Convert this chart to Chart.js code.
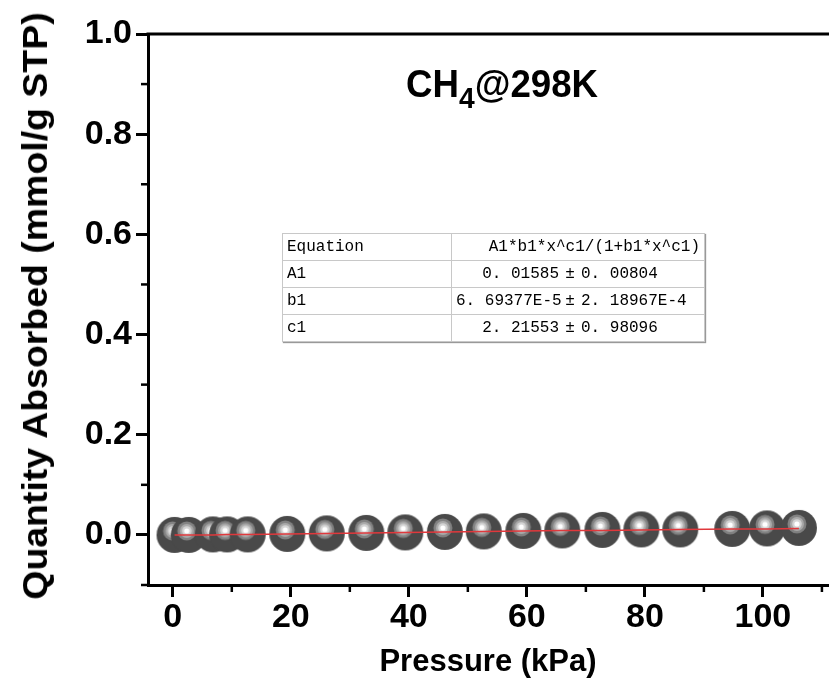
<!DOCTYPE html>
<html>
<head>
<meta charset="utf-8">
<script src="https://cdn.jsdelivr.net/npm/chart.js@4/dist/chart.umd.min.js"></script>
<style>
  html, body { margin: 0; padding: 0; background: #fff; }
  #wrap { position: relative; width: 829px; height: 690px; overflow: hidden; font-family: "Liberation Sans", Arial, sans-serif; color: #000; }
  #chart { position: absolute; left: 0; top: 0; }
  .ytitle { position: absolute; left: 35px; top: 306px; transform: translate(-50%, -50%) rotate(-90deg) scaleX(1.07); white-space: nowrap; font-weight: bold; font-size: 35px; }
  .xtitle { position: absolute; left: 488px; top: 661px; transform: translate(-50%, -50%); white-space: nowrap; font-weight: bold; font-size: 31px; }
  .ptitle { position: absolute; left: 406px; top: 62px; white-space: nowrap; font-weight: bold; font-size: 39px; transform-origin: 0 0; transform: scaleX(0.94); }
  .ptitle sub { font-size: 30px; vertical-align: -11px; line-height: 0; }
  table.fit { position: absolute; left: 282px; top: 233px; width: 423px; border-collapse: collapse; font-family: "Liberation Mono", monospace; font-size: 16px; border: 1.5px solid #555; box-shadow: 1px 1px 1px #999; background: #fff; }
  table.fit td { height: 26px; padding: 0 4px; border: 1px solid #c8c8c8; white-space: nowrap; }
  table.fit td.name { width: 160px; }
  table.fit td.head { text-align: right; }
  table.fit span.v { display: inline-block; width: 103px; text-align: right; }
  table.fit span.pm { display: inline-block; width: 22px; text-align: center; }
</style>
</head>
<body>
<div id="wrap">
  <canvas id="chart" width="829" height="690"></canvas>
  <div class="ytitle">Quantity Absorbed (mmol/g STP)</div>
  <div class="xtitle">Pressure (kPa)</div>
  <div class="ptitle">CH<sub>4</sub>@298K</div>
  <table class="fit" id="fitTable"></table>
</div>
<script>
// measured points (CH4 at 298 K)
const pressure = [0.3, 2.7, 6.8, 9.2, 12.7, 19.4, 26.1, 32.8, 39.4, 46.1, 52.7, 59.4, 66.0, 72.8, 79.4, 86.0, 94.8, 100.7, 106.1];
const uptake = [0.000, 0.000, 0.001, 0.001, 0.001, 0.002, 0.003, 0.004, 0.005, 0.006, 0.007, 0.008, 0.009, 0.010, 0.011, 0.011, 0.012, 0.013, 0.014];
// red fitted curve, read at the same pressures
const fitUptake = [0.000, 0.000, 0.000, 0.001, 0.001, 0.002, 0.003, 0.004, 0.005, 0.006, 0.007, 0.008, 0.009, 0.009, 0.010, 0.011, 0.012, 0.012, 0.013];

// axis ticks
const xMajorTicks = [0, 20, 40, 60, 80, 100];
const xMinorTicks = [10, 30, 50, 70, 90, 110];
const yMajorTicks = [0, 0.2, 0.4, 0.6, 0.8, 1.0];
const yTickLabels = ['0.0', '0.2', '0.4', '0.6', '0.8', '1.0'];
const yMinorTicks = [-0.1, 0.1, 0.3, 0.5, 0.7, 0.9];

// fit result table
const fitEquation = 'A1*b1*x^c1/(1+b1*x^c1)';
const paramNames = ['A1', 'b1', 'c1'];
const paramValues = ['0. 01585', '6. 69377E-5', '2. 21553'];
const paramErrors = ['0. 00804', '2. 18967E-4', '0. 98096'];

// Build the parameter table
const table = document.getElementById('fitTable');
let rows = '<tr><td class="name">Equation</td><td class="head">' + fitEquation + '</td></tr>';
paramNames.forEach((n, i) => {
  rows += '<tr><td class="name">' + n + '</td><td><span class="v">' + paramValues[i] +
    '</span><span class="pm">\u00b1</span>' + paramErrors[i] + '</td></tr>';
});
table.innerHTML = rows;

// Grey ball marker
function makeSphere() {
  const c = document.createElement('canvas');
  c.width = 38; c.height = 38;
  const g = c.getContext('2d');
  const disc = (x, y, r, col) => {
    g.beginPath(); g.arc(x, y, r, 0, Math.PI * 2); g.fillStyle = col; g.fill();
  };
  disc(19, 19, 18, '#494949');
  disc(17, 15, 9.5, '#828282');
  disc(17, 15, 7, '#aaaaaa');
  disc(17, 15, 4.8, '#d4d4d4');
  disc(17, 15, 2.6, '#ffffff');
  return c;
}

const tickFont = { family: '"Liberation Sans", Arial, sans-serif', size: 34, weight: 'bold' };

// Frame: top border + short minor ticks
const framePlugin = {
  id: 'frame',
  afterDraw(chart) {
    const { ctx, chartArea, scales } = chart;
    ctx.save();
    ctx.strokeStyle = '#000';
    ctx.lineWidth = 3;
    ctx.beginPath();
    ctx.moveTo(chartArea.left - 1.5, chartArea.top);
    ctx.lineTo(chartArea.right, chartArea.top);
    ctx.stroke();
    ctx.lineWidth = 2.5;
    xMinorTicks.forEach(v => {
      const px = scales.x.getPixelForValue(v);
      if (px < chartArea.left || px > chartArea.right) return;
      ctx.beginPath();
      ctx.moveTo(px, chartArea.bottom);
      ctx.lineTo(px, chartArea.bottom + 7);
      ctx.stroke();
    });
    yMinorTicks.forEach(v => {
      const py = scales.y.getPixelForValue(v);
      ctx.beginPath();
      ctx.moveTo(chartArea.left, py);
      ctx.lineTo(chartArea.left - 7, py);
      ctx.stroke();
    });
    ctx.restore();
  }
};

new Chart(document.getElementById('chart'), {
  type: 'scatter',
  data: {
    datasets: [{
      type: 'line',
      data: pressure.map((p, i) => ({ x: p, y: fitUptake[i] })),
      borderColor: '#e0383c',
      borderWidth: 1.5,
      pointRadius: 0,
      fill: false,
      order: 0
    }, {
      data: pressure.map((p, i) => ({ x: p, y: uptake[i] })),
      pointStyle: makeSphere(),
      pointRadius: 19,
      showLine: false,
      order: 1
    }]
  },
  options: {
    responsive: false,
    animation: false,
    layout: { padding: { top: 34, right: 0, bottom: 0, left: 0 }, autoPadding: false },
    plugins: { legend: { display: false }, tooltip: { enabled: false } },
    scales: {
      x: {
        type: 'linear',
        min: -4.2,
        max: 111.2,
        afterBuildTicks: s => { s.ticks = xMajorTicks.map(v => ({ value: v })); },
        afterFit: s => { s.height = 105; },
        ticks: { font: tickFont, color: '#000', padding: 0, maxRotation: 0, autoSkip: false, callback: v => String(v) },
        grid: { drawOnChartArea: false, tickLength: 12, tickWidth: 3, tickColor: '#000' },
        border: { color: '#000', width: 3 }
      },
      y: {
        min: -0.1,
        max: 1.0,
        afterBuildTicks: s => { s.ticks = yMajorTicks.map(v => ({ value: v })); },
        afterFit: s => { s.width = 148; },
        ticks: { font: tickFont, color: '#000', padding: 4, autoSkip: false, callback: (v, i) => yTickLabels[i] },
        grid: { drawOnChartArea: false, tickLength: 12, tickWidth: 3, tickColor: '#000' },
        border: { color: '#000', width: 3 }
      }
    }
  },
  plugins: [framePlugin]
});
</script>
</body>
</html>
